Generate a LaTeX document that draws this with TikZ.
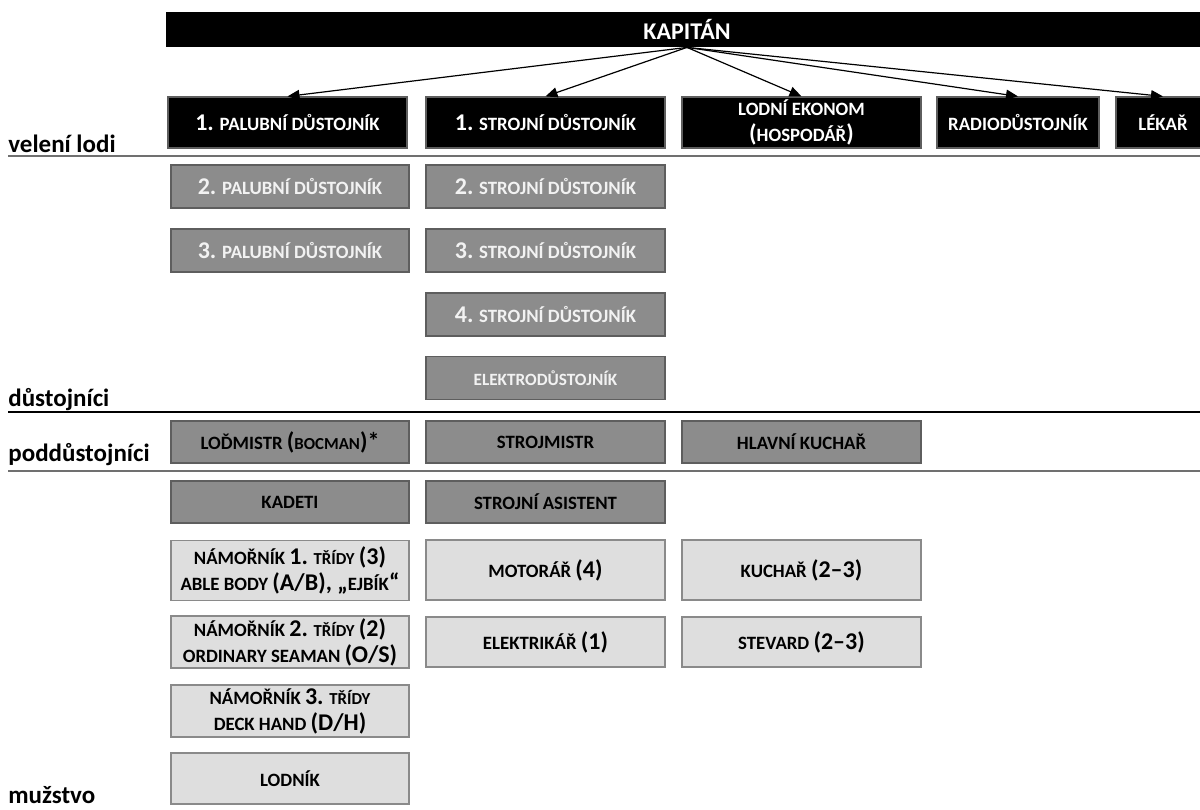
\documentclass[tikz,border=0pt]{standalone}
\usepackage{fontspec}
\setmainfont{Carlito}
\usetikzlibrary{arrows.meta}

\definecolor{boxdark}{HTML}{8C8C8C}
\definecolor{boxlight}{HTML}{DEDEDE}
\definecolor{edgedark}{HTML}{5E5E5E}
\definecolor{edgelight}{HTML}{8A8A8A}
\definecolor{rulegray}{HTML}{707070}

\newcommand\bigtxt[1]{{\fontsize{12}{13}\selectfont #1}}
\newcommand\smtxt[1]{{\fontsize{8.4}{13}\selectfont #1}}

\begin{document}
\begin{tikzpicture}[x=0.5pt, y=-0.5pt,
  box/.style={draw, line width=0.6pt, minimum width=119.5pt, minimum height=#1,
              inner sep=1pt, align=center, font=\bfseries\fontsize{9.4}{13}\selectfont},
  chief/.style={fill=black, text=white, minimum width=521pt, minimum height=17.5pt,
                inner sep=0pt, font=\bfseries\fontsize{12}{13}\selectfont},
  cmd/.style={box=25.5pt, fill=black, draw=edgedark, text=white},
  off/.style={box=21.5pt, fill=boxdark, draw=edgedark, text=white!95!black},
  nco/.style={box=21pt, fill=boxdark, draw=edgedark, text=black},
  crew/.style={box=#1, fill=boxlight, draw=edgelight, text=black},
  rank/.style={anchor=base west, inner sep=0pt, font=\bfseries\fontsize{12.5}{15}\selectfont},
  arr/.style={-{Triangle[length=6pt, width=5pt]}, line width=0.6pt},
  level/.style={line width=#1},
]
\useasboundingbox (0,0) rectangle (1200,809);

%% captain and ship command
\node[chief] (kap) at (687,29.5) {KAPITÁN};
\node[cmd] (pd1) at (287.5,122.5) {\bigtxt{1.} PALUBNÍ DŮSTOJNÍK};
\node[cmd] (sd1) at (545.5,122.5) {\bigtxt{1.} STROJNÍ DŮSTOJNÍK};
\node[cmd] (eko) at (801.5,122.5) {LODNÍ EKONOM\\\bigtxt{(}HOSPODÁŘ\bigtxt{)}};
\node[cmd, minimum width=81pt] (rad) at (1018,122.5) {RADIODŮSTOJNÍK};
\node[cmd, minimum width=47pt] (lek) at (1163,122.5) {LÉKAŘ};

\foreach \t in {pd1,sd1,eko,rad,lek}
  \draw[arr] (kap.south) -- (\t.north);

%% officers
\node[off, minimum width=119pt] (pd2) at (290,186.5) {\bigtxt{2.} PALUBNÍ DŮSTOJNÍK};
\node[off, minimum width=119pt] (pd3) at (290,250.5) {\bigtxt{3.} PALUBNÍ DŮSTOJNÍK};
\node[off] (sd2) at (545.5,186.5) {\bigtxt{2.} STROJNÍ DŮSTOJNÍK};
\node[off] (sd3) at (545.5,250.5) {\bigtxt{3.} STROJNÍ DŮSTOJNÍK};
\node[off] (sd4) at (545.5,314.5) {\bigtxt{4.} STROJNÍ DŮSTOJNÍK};
\node[off, font=\bfseries\fontsize{8.6}{13}\selectfont] (eld) at (545.5,378) {ELEKTRODŮSTOJNÍK};

%% petty officers
\node[nco, minimum width=119pt] (bos) at (290,442) {LOĎMISTR \bigtxt{(}\smtxt{BOCMAN}\bigtxt{)*}};
\node[nco] (stm) at (545.5,442) {STROJMISTR};
\node[nco] (hku) at (801.5,442) {HLAVNÍ KUCHAŘ};

%% crew
\node[nco, minimum width=119pt] (kad) at (290,502) {KADETI};
\node[nco] (sas) at (545.5,502) {STROJNÍ ASISTENT};
\node[crew=30pt, minimum width=119pt] (nm1) at (290,570.5)
  {NÁMOŘNÍK \bigtxt{1.} \smtxt{TŘÍDY} \bigtxt{(3)}\\ABLE BODY \bigtxt{(A/B), „}EJBÍK\bigtxt{“}};
\node[crew=30pt] (mot) at (545.5,570) {MOTORÁŘ \bigtxt{(4)}};
\node[crew=30pt] (kuc) at (801.5,570) {KUCHAŘ \bigtxt{(2–3)}};
\node[crew=26pt, minimum width=119pt] (nm2) at (290,642)
  {NÁMOŘNÍK \bigtxt{2.} \smtxt{TŘÍDY} \bigtxt{(2)}\\ORDINARY SEAMAN \bigtxt{(O/S)}};
\node[crew=25pt] (ele) at (545.5,642) {ELEKTRIKÁŘ \bigtxt{(1)}};
\node[crew=25pt] (ste) at (801.5,642) {STEVARD \bigtxt{(2–3)}};
\node[crew=26pt, minimum width=119pt] (nm3) at (290,711)
  {NÁMOŘNÍK \bigtxt{3.} \smtxt{TŘÍDY}\\DECK HAND \bigtxt{(D/H)}};
\node[crew=25.5pt, minimum width=119pt] (lod) at (290,778.5) {LODNÍK};

%% levels
\node[rank] (vel) at (8,152) {velení lodi};
\node[rank] (dus) at (8,406) {důstojníci};
\node[rank] (pod) at (8,461) {poddůstojníci};
\node[rank] (muz) at (8,803) {mužstvo};

\draw[level=1pt, rulegray] (8,156) -- (1200,156);
\draw[level=0.8pt, black] (8,412) -- (1200,412);
\draw[level=1pt, rulegray] (8,471) -- (1200,471);

\end{tikzpicture}
\end{document}
